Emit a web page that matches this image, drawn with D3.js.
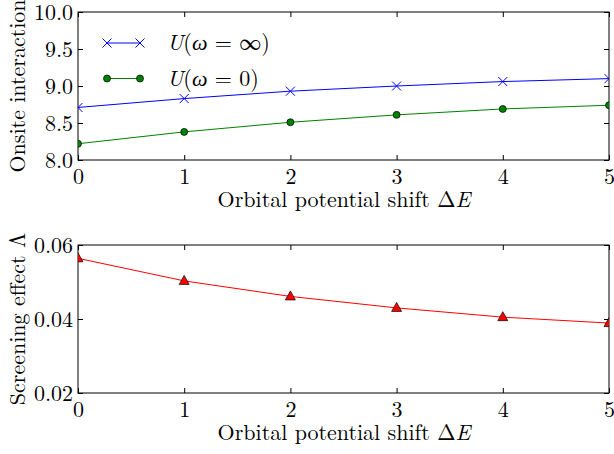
<!DOCTYPE html>
<html><head><meta charset="utf-8">
<script src="https://cdn.jsdelivr.net/npm/d3@7"></script>
<style>
html,body{margin:0;padding:0;background:#fff;}
svg{display:block;}
</style></head>
<body>
<svg id="c" width="614" height="454"></svg>
<script>
const shifts = [0, 1, 2, 3, 4, 5];
const uInf = [8.71, 8.83, 8.93, 9.00, 9.06, 9.10];
const uZero = [8.22, 8.38, 8.51, 8.61, 8.69, 8.74];
const screening = [0.0564, 0.0503, 0.0461, 0.0430, 0.0405, 0.0389];
const xTicks = [0, 1, 2, 3, 4, 5];
const yTicksTop = [8.0, 8.5, 9.0, 9.5, 10.0];
const yTicksBottom = [0.02, 0.04, 0.06];

const svg = d3.select("#c");
svg.append("rect").attr("width",614).attr("height",454).attr("fill","#fff");
const FS = 22;
const SERIF = '"Latin Modern Roman", "Liberation Serif", serif';
const L = 78, R = 609;
const font = s => s.style("font-family", SERIF).style("font-size", FS+"px").attr("fill","#000");

function panel(id, top, bottom, yDomain, yTicks, yFmt) {
  const x = d3.scaleLinear().domain([0,5]).range([L,R]);
  const y = d3.scaleLinear().domain(yDomain).range([bottom, top]);
  const g = svg.append("g");
  g.append("clipPath").attr("id", id).append("rect")
    .attr("x", L).attr("y", top).attr("width", R-L).attr("height", bottom-top);
  const style = a => {
    a.select(".domain").remove();
    a.selectAll(".tick line").attr("stroke","#000").attr("stroke-width",1);
    a.selectAll(".tick text").call(font);
  };
  g.append("g").attr("transform",`translate(0,${bottom})`)
    .call(d3.axisBottom(x).tickValues(xTicks).tickSize(-5).tickPadding(8).tickFormat(d3.format("d")))
    .call(style);
  g.append("g").attr("transform",`translate(0,${top})`)
    .call(d3.axisTop(x).tickValues(xTicks).tickSize(-5).tickFormat(""))
    .call(style);
  g.append("g").attr("transform",`translate(${L},0)`)
    .call(d3.axisLeft(y).tickValues(yTicks).tickSize(-5).tickPadding(5).tickFormat(yFmt))
    .call(style);
  g.append("g").attr("transform",`translate(${R},0)`)
    .call(d3.axisRight(y).tickValues(yTicks).tickSize(-5).tickFormat(""))
    .call(style);
  g.append("rect").attr("x",L).attr("y",top).attr("width",R-L).attr("height",bottom-top)
    .attr("fill","none").attr("stroke","#000").attr("stroke-width",1);
  const plot = g.append("g").attr("clip-path",`url(#${id})`);
  return {x, y, g, plot};
}

function xLabel(g, yBase) {
  const t = g.append("text").attr("x", 344).attr("y", yBase).attr("text-anchor","middle").call(font);
  t.append("tspan").text("Orbital potential shift \u0394");
  t.append("tspan").style("font-style","italic").text("E");
}

// Top panel
const p1 = panel("clipTop", 12, 160, [8.0, 10.0], yTicksTop, d3.format(".1f"));
const line1 = d3.line().x((d,i)=>p1.x(shifts[i])).y(d=>p1.y(d));
p1.plot.append("path").datum(uInf).attr("d", line1).attr("fill","none").attr("stroke","#0000ff").attr("stroke-width",1);
p1.plot.append("path").datum(uZero).attr("d", line1).attr("fill","none").attr("stroke","#008000").attr("stroke-width",1);
const cross = (sel, cx, cy) => {
  const s = 4.5;
  sel.append("path").attr("d",`M${cx-s},${cy-s}L${cx+s},${cy+s}M${cx-s},${cy+s}L${cx+s},${cy-s}`)
    .attr("stroke","#0000ff").attr("stroke-width",1).attr("fill","none");
};
uInf.forEach((v,i)=>cross(p1.plot, p1.x(shifts[i]), p1.y(v)));
p1.plot.selectAll("circle.g").data(uZero).enter().append("circle")
  .attr("cx",(d,i)=>p1.x(shifts[i])).attr("cy",d=>p1.y(d)).attr("r",3.5)
  .attr("fill","#008000").attr("stroke","#000").attr("stroke-width",0.7);
xLabel(p1.g, 207);
p1.g.append("text").attr("transform","translate(25,86) rotate(-90)").attr("text-anchor","middle")
  .call(font).text("Onsite interaction");

// Legend
const lg = svg.append("g");
lg.append("line").attr("x1",107).attr("x2",140).attr("y1",43).attr("y2",43).attr("stroke","#0000ff").attr("stroke-width",1);
cross(lg,107,43); cross(lg,140,43);
lg.append("line").attr("x1",107).attr("x2",140).attr("y1",78.5).attr("y2",78.5).attr("stroke","#008000").attr("stroke-width",1);
[107,140].forEach(cx=>lg.append("circle").attr("cx",cx).attr("cy",78.5).attr("r",3.5).attr("fill","#008000").attr("stroke","#000").attr("stroke-width",0.7));
function legText(yb, arg) {
  const t = lg.append("text").attr("x",167).attr("y",yb).call(font);
  t.append("tspan").style("font-style","italic").text("U");
  t.append("tspan").text("(");
  t.append("tspan").style("font-style","italic").text("\u03c9");
  t.append("tspan").text(" = " + arg + ")");
}
legText(50, "\u221e");
legText(86, "0");

// Bottom panel
const p2 = panel("clipBot", 245, 393, [0.02, 0.06], yTicksBottom, d3.format(".2f"));
const line2 = d3.line().x((d,i)=>p2.x(shifts[i])).y(d=>p2.y(d));
p2.plot.append("path").datum(screening).attr("d", line2).attr("fill","none").attr("stroke","#ff0000").attr("stroke-width",1);
p2.plot.selectAll("path.tri").data(screening).enter().append("path")
  .attr("d",(d,i)=>{const cx=p2.x(shifts[i]), cy=p2.y(d); return `M${cx},${cy-5.5}L${cx+5},${cy+3.5}L${cx-5},${cy+3.5}Z`;})
  .attr("fill","#ff0000").attr("stroke","#000").attr("stroke-width",0.7);
xLabel(p2.g, 440);
p2.g.append("text").attr("transform","translate(25,319) rotate(-90)").attr("text-anchor","middle")
  .call(font).text("Screening effect \u039b");
</script>
</body></html>
